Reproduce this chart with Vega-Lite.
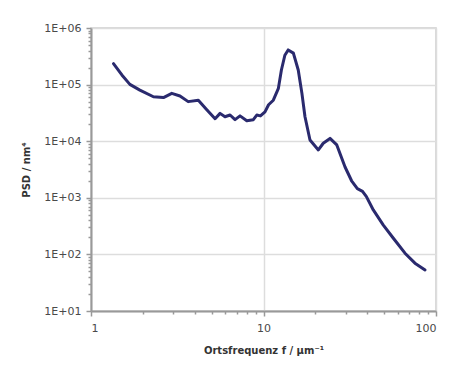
{
  "$schema": "https://vega.github.io/schema/vega-lite/v6.json",
  "autosize": {"type": "none"},
  "padding": {"left": 91, "top": 28, "right": 15, "bottom": 65},
  "width": 345,
  "height": 283,
  "background": "white",
  "config": {
    "view": {"stroke": "#cccccc", "strokeWidth": 1.5},
    "axis": {
      "labelFont": "DejaVu Sans",
      "labelFontSize": 11,
      "labelColor": "#4a4a4a",
      "titleFont": "DejaVu Sans",
      "titleFontSize": 10,
      "titleFontWeight": "bold",
      "titleColor": "#333333",
      "domainColor": "#999999",
      "domainWidth": 2,
      "tickColor": "#999999",
      "tickWidth": 1.5,
      "gridColor": "#dddddd",
      "gridWidth": 1.5
    }
  },
  "data": {
    "values": [
      {"f": 1.35, "psd": 235000},
      {"f": 1.51, "psd": 148000},
      {"f": 1.68, "psd": 101000},
      {"f": 1.92, "psd": 80000},
      {"f": 2.3, "psd": 61000},
      {"f": 2.63, "psd": 59000},
      {"f": 2.94, "psd": 70000},
      {"f": 3.28, "psd": 63000},
      {"f": 3.66, "psd": 50000},
      {"f": 4.19, "psd": 53000},
      {"f": 4.69, "psd": 36000},
      {"f": 5.24, "psd": 25000},
      {"f": 5.6, "psd": 31000},
      {"f": 5.98, "psd": 27000},
      {"f": 6.4, "psd": 29000},
      {"f": 6.84, "psd": 24000},
      {"f": 7.31, "psd": 28000},
      {"f": 8.0, "psd": 23000},
      {"f": 8.73, "psd": 24000},
      {"f": 9.14, "psd": 29000},
      {"f": 9.6, "psd": 28000},
      {"f": 10.2, "psd": 33000},
      {"f": 10.7, "psd": 44000},
      {"f": 11.4, "psd": 53000},
      {"f": 12.2, "psd": 86000},
      {"f": 12.7, "psd": 181000},
      {"f": 13.3, "psd": 330000},
      {"f": 13.9, "psd": 410000},
      {"f": 14.9, "psd": 360000},
      {"f": 15.9, "psd": 181000},
      {"f": 16.7, "psd": 70000},
      {"f": 17.4, "psd": 27000},
      {"f": 18.6, "psd": 10500},
      {"f": 20.8, "psd": 7000},
      {"f": 22.2, "psd": 9200},
      {"f": 24.3, "psd": 11200},
      {"f": 26.6, "psd": 8600},
      {"f": 29.7, "psd": 3500},
      {"f": 32.4, "psd": 2000},
      {"f": 35.0, "psd": 1450},
      {"f": 37.5, "psd": 1300},
      {"f": 39.5, "psd": 1050},
      {"f": 43.3, "psd": 610},
      {"f": 49.5, "psd": 330},
      {"f": 56.6, "psd": 193},
      {"f": 66.1, "psd": 105},
      {"f": 75.5, "psd": 70},
      {"f": 86.4, "psd": 53}
    ]
  },
  "mark": {"type": "line", "color": "#2a2a6e", "strokeWidth": 3, "strokeJoin": "round", "strokeCap": "round"},
  "encoding": {
    "x": {
      "field": "f",
      "type": "quantitative",
      "scale": {"type": "log", "domain": [1, 100], "nice": false},
      "axis": {
        "title": "Ortsfrequenz f / µm⁻¹",
        "titlePadding": 12,
        "values": [1,2,3,4,5,6,7,8,9,10,20,30,40,50,60,70,80,90,100],
        "labelExpr": "abs(log(datum.value)/LN10 - round(log(datum.value)/LN10)) < 0.001 ? datum.label : ''",
        "format": "d",
        "labelPadding": 6,
        "tickSize": {"condition": {"test": "abs(log(datum.value)/LN10 - round(log(datum.value)/LN10)) < 0.001", "value": 5}, "value": 3},
        "gridOpacity": {"condition": {"test": "abs(log(datum.value)/LN10 - round(log(datum.value)/LN10)) < 0.001", "value": 1}, "value": 0}
      }
    },
    "y": {
      "field": "psd",
      "type": "quantitative",
      "scale": {"type": "log", "domain": [10, 1000000], "nice": false},
      "axis": {
        "title": "PSD / nm⁴",
        "titlePadding": 12,
        "values": [10,20,30,40,50,60,70,80,90,100,200,300,400,500,600,700,800,900,1000,2000,3000,4000,5000,6000,7000,8000,9000,10000,20000,30000,40000,50000,60000,70000,80000,90000,100000,200000,300000,400000,500000,600000,700000,800000,900000,1000000],
        "labelExpr": "abs(log(datum.value)/LN10 - round(log(datum.value)/LN10)) < 0.001 ? '1E+0' + round(log(datum.value)/LN10) : ''",
        "labelPadding": 5,
        "tickSize": {"condition": {"test": "abs(log(datum.value)/LN10 - round(log(datum.value)/LN10)) < 0.001", "value": 5}, "value": 3},
        "gridOpacity": {"condition": {"test": "abs(log(datum.value)/LN10 - round(log(datum.value)/LN10)) < 0.001", "value": 1}, "value": 0}
      }
    }
  }
}
